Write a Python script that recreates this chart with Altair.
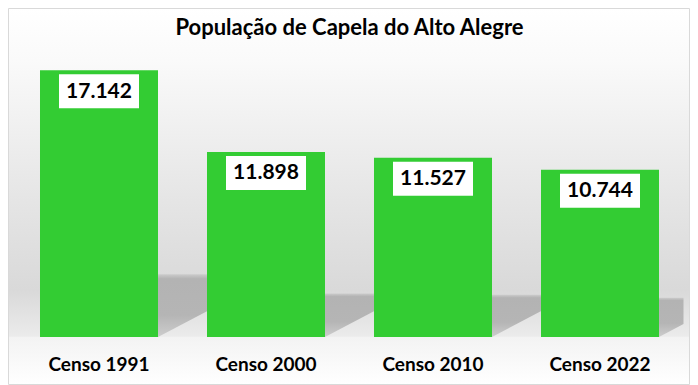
import altair as alt
import pandas as pd

# ---- data ----
categories = ["Censo 1991", "Censo 2000", "Censo 2010", "Censo 2022"]
values = [17142, 11898, 11527, 10744]
labels = ["17.142", "11.898", "11.527", "10.744"]
title_text = "População de Capela do Alto Alegre"

df = pd.DataFrame({"cat": categories, "value": values, "label": labels,
                   "idx": list(range(len(categories)))})

# ---- layout constants ----
W, H = 668, 280
YMAX = 18000
PAD_IN = 0.2934
PAD = {"left": 7.5, "top": 49, "right": 6.5, "bottom": 48}
SHADOW_FRAC = 0.235
SKEW = 1.9
FONT = "Lato"
NCAT = len(categories)

band_scale = alt.Scale(paddingInner=PAD_IN, paddingOuter=PAD_IN / 2)
xband = alt.X(
    "cat:N", sort=categories, scale=band_scale,
    axis=alt.Axis(title=None, domain=False, ticks=False, tickSize=0, grid=False,
                  labelAngle=0, labelFont=FONT, labelFontWeight="bold",
                  labelFontSize=19, labelColor="#000000", labelPadding=33,
                  labelBaseline="alphabetic", zindex=2),
)
xband_noaxis = alt.X("cat:N", sort=categories, scale=band_scale, axis=None)
yscale = alt.Scale(domain=[0, YMAX], nice=False, zero=True)
yq = alt.Y("value:Q", scale=yscale, axis=None)

bg_grad = alt.LinearGradient(
    gradient="linear", x1=0, x2=0, y1=0, y2=1,
    stops=[
        alt.GradientStop(color="#ffffff", offset=0),
        alt.GradientStop(color="#fafafa", offset=0.138),
        alt.GradientStop(color="#e8e8e8", offset=0.456),
        alt.GradientStop(color="#d9d9d9", offset=0.748),
        alt.GradientStop(color="#ebebeb", offset=0.870),
        alt.GradientStop(color="#f3f3f3", offset=0.874),
        alt.GradientStop(color="#ffffff", offset=1),
    ],
)
one = pd.DataFrame({"k": [0]})
bg = alt.Chart(one).mark_rect(fill=bg_grad).encode(
    x=alt.value(-PAD["left"]), x2=alt.value(W + PAD["right"]),
    y=alt.value(-PAD["top"]), y2=alt.value(H + PAD["bottom"]),
)
border = alt.Chart(one).mark_rect(fillOpacity=0, stroke="#d9d9d9", strokeWidth=1).encode(
    x=alt.value(-PAD["left"] + 0.5), x2=alt.value(W + PAD["right"] - 0.5),
    y=alt.value(-PAD["top"] + 0.5), y2=alt.value(H + PAD["bottom"] - 0.5),
)
title = alt.Chart(one).mark_text(
    text=title_text, font=FONT, fontSize=22, fontWeight="bold", color="#000000",
    align="center", baseline="alphabetic",
).encode(x=alt.value(W / 2), y=alt.value(-21.7))

# floor shadows: skewed triangle to the right of each bar, cut at the plot edge
px_per_unit_y = H / YMAX
step_px = W / NCAT
right_off = 0.5 + (1 - PAD_IN) / 2
shadow_grad = alt.LinearGradient(
    gradient="linear", x1=0, x2=0, y1=0, y2=1,
    stops=[
        alt.GradientStop(color="#cbcbcb", offset=0),
        alt.GradientStop(color="#b3b3b3", offset=0.07),
        alt.GradientStop(color="#b5b5b5", offset=0.65),
        alt.GradientStop(color="#cdcdcd", offset=1),
    ],
)
shadow = alt.Chart(df).transform_calculate(
    t=f"datum.value * {SHADOW_FRAC}",
    xr=f"datum.idx + {right_off}",
).transform_calculate(
    xs=f"datum.xr + datum.t * {px_per_unit_y} * {SKEW} / {step_px}",
).transform_calculate(
    xe=f"min(datum.xs, {NCAT})",
).transform_calculate(
    yb_e="datum.t * (datum.xe - datum.xr) / (datum.xs - datum.xr)",
).transform_fold(
    ["xr", "xe"], as_=["k", "xpos"]
).transform_calculate(
    ybot="datum.k == 'xr' ? 0 : datum.yb_e"
).mark_area(fill=shadow_grad, interpolate="linear").encode(
    x=alt.X("xpos:Q", scale=alt.Scale(domain=[0, NCAT], nice=False, zero=False), axis=None),
    y=alt.Y("t:Q", scale=yscale, axis=None, stack=None),
    y2=alt.Y2("ybot"),
    detail="cat:N",
)

bars = alt.Chart(df).mark_bar(color="#33cc33").encode(x=xband, y=yq)

boxes = alt.Chart(df).mark_bar(color="#ffffff", width=80, yOffset=4, y2Offset=38).encode(
    x=xband_noaxis, y=yq, y2=alt.Y2("value:Q"),
)

texts = alt.Chart(df).mark_text(
    font=FONT, fontWeight="bold", fontSize=21, color="#000000",
    baseline="middle", align="center", yOffset=21.5,
).encode(x=xband_noaxis, y=yq, text="label:N")

chart = alt.layer(bg, border, title, shadow, bars, boxes, texts).resolve_scale(
    x="independent"
).properties(
    width=W, height=H,
    padding=PAD,
    autosize=alt.AutoSizeParams(type="none"),
    background="#ffffff",
).configure_view(strokeWidth=0)

chart.save("out.html", embed_options={"renderer": "svg", "actions": False})
